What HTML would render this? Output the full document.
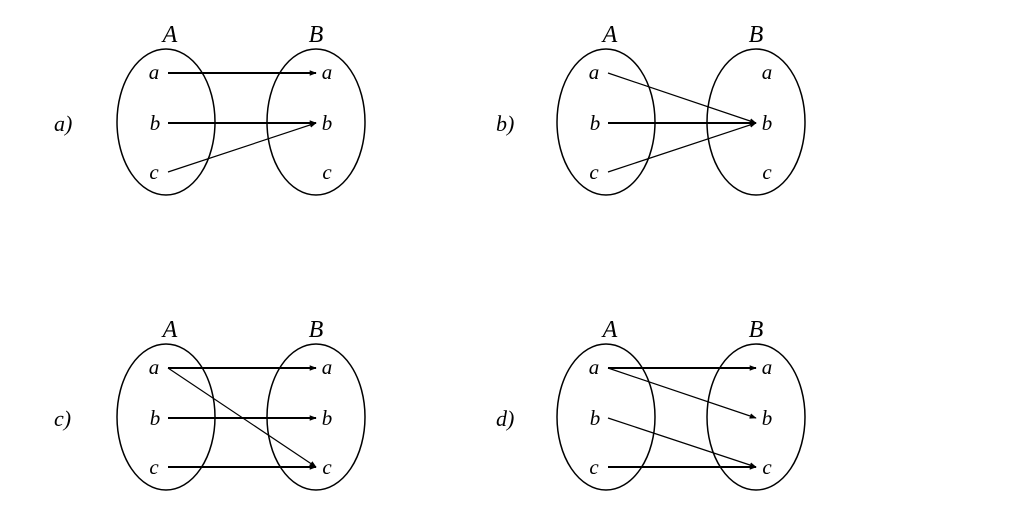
<!DOCTYPE html>
<html><head><style>html,body{margin:0;padding:0;background:#fff}svg{display:block}text{stroke:none;fill:#000}</style></head>
<body>
<svg width="1021" height="530" viewBox="0 0 1021 530" xmlns="http://www.w3.org/2000/svg" font-family="Liberation Serif, serif" font-style="italic" font-size="21">
<defs>
<marker id="ar" viewBox="0 0 10 10" refX="9" refY="5" markerWidth="7" markerHeight="7" markerUnits="userSpaceOnUse" orient="auto"><path d="M0,1 L10,5 L0,9 z" fill="#000" stroke="none"/></marker>
<g id="base">
<ellipse cx="166" cy="122" rx="49" ry="73" fill="none" stroke="#000" stroke-width="1.5"/>
<ellipse cx="316" cy="122" rx="49" ry="73" fill="none" stroke="#000" stroke-width="1.5"/>
<text x="170" y="42" text-anchor="middle" font-size="24">A</text>
<text x="316" y="42" text-anchor="middle" font-size="24">B</text>
<text x="154" y="79" text-anchor="middle">a</text>
<text x="155" y="130" text-anchor="middle">b</text>
<text x="154" y="179" text-anchor="middle">c</text>
<text x="327" y="79" text-anchor="middle">a</text>
<text x="327" y="130" text-anchor="middle">b</text>
<text x="327" y="179" text-anchor="middle">c</text>
</g>
</defs>
<g stroke="#000" fill="none">
<use href="#base"/>
<text x="54" y="131" font-size="22">a)</text>
<line x1="168" y1="73" x2="316" y2="73" stroke-width="2" marker-end="url(#ar)"/>
<line x1="168" y1="123" x2="316" y2="123" stroke-width="2" marker-end="url(#ar)"/>
<line x1="168" y1="172" x2="316" y2="123" stroke-width="1.2" marker-end="url(#ar)"/>
<g transform="translate(440,0)">
<use href="#base"/>
<text x="56" y="131" font-size="22">b)</text>
<line x1="168" y1="73" x2="316" y2="123" stroke-width="1.2" marker-end="url(#ar)"/>
<line x1="168" y1="123" x2="316" y2="123" stroke-width="2" marker-end="url(#ar)"/>
<line x1="168" y1="172" x2="316" y2="123" stroke-width="1.2" marker-end="url(#ar)"/>
</g>
<g transform="translate(0,295)">
<use href="#base"/>
<text x="54" y="131" font-size="22">c)</text>
<line x1="168" y1="73" x2="316" y2="73" stroke-width="2" marker-end="url(#ar)"/>
<line x1="168" y1="123" x2="316" y2="123" stroke-width="2" marker-end="url(#ar)"/>
<line x1="168" y1="172" x2="316" y2="172" stroke-width="2" marker-end="url(#ar)"/>
<line x1="168" y1="73" x2="316" y2="172" stroke-width="1.2" marker-end="url(#ar)"/>
</g>
<g transform="translate(440,295)">
<use href="#base"/>
<text x="56" y="131" font-size="22">d)</text>
<line x1="168" y1="73" x2="316" y2="73" stroke-width="2" marker-end="url(#ar)"/>
<line x1="168" y1="73" x2="316" y2="123" stroke-width="1.2" marker-end="url(#ar)"/>
<line x1="168" y1="123" x2="316" y2="172" stroke-width="1.2" marker-end="url(#ar)"/>
<line x1="168" y1="172" x2="316" y2="172" stroke-width="2" marker-end="url(#ar)"/>
</g>
</g>
</svg>
</body></html>
